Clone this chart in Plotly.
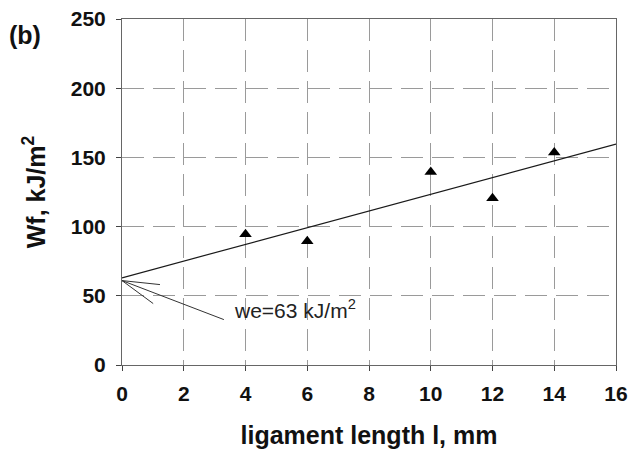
import plotly.graph_objects as go

# Measured work of fracture vs ligament length
ligament_mm = [4, 6, 10, 12, 14]
wf_kj_m2 = [94.5, 89.5, 139.5, 120.5, 153.5]

# Linear fit: essential work (intercept) and slope
we_intercept = 63
fit_slope = 6.04
fit_x = [0, 16]

x_ticks = [0, 2, 4, 6, 8, 10, 12, 14, 16]
y_ticks = [0, 50, 100, 150, 200, 250]

FONT = "Liberation Sans, Arial, sans-serif"

fig = go.Figure()

fig.add_trace(go.Scatter(
    x=fit_x,
    y=[we_intercept + fit_slope * v for v in fit_x],
    mode="lines",
    line=dict(color="#1a1a1a", width=1.2),
    hoverinfo="skip",
))

fig.add_trace(go.Scatter(
    x=ligament_mm,
    y=wf_kj_m2,
    mode="markers",
    marker=dict(symbol="triangle-up", size=11, color="black"),
))

# Pointer lines from the label to the intercept
pointer_ends = [(1.23, 58.1), (1.01, 44.4), (3.30, 32.8)]
for ex, ey in pointer_ends:
    fig.add_shape(type="line", xref="x", yref="y", x0=0, y0=61, x1=ex, y1=ey,
                  line=dict(color="#333333", width=1))

fig.add_annotation(
    x=3.56, y=40.5, xref="x", yref="y", xanchor="left", yanchor="middle",
    text="we=63 kJ/m<sup>2</sup>", showarrow=False,
    font=dict(family=FONT, size=21, color="#222222"),
)

fig.add_annotation(
    x=-0.233, y=0.955, xref="paper", yref="paper", xanchor="left", yanchor="middle",
    text="<b>(b)</b>", showarrow=False,
    font=dict(family=FONT, size=25, color="#111111"),
)

grid_common = dict(
    showgrid=True, gridcolor="#9a9a9a", gridwidth=1, griddash="22px,9px",
    showline=True, linecolor="#666666", linewidth=1, mirror=True,
    ticks="outside", ticklen=5, tickcolor="#444444",
    tickfont=dict(family=FONT, size=21, color="#111111"),
    zeroline=False, automargin=False,
)

fig.update_layout(
    width=640, height=458,
    margin=dict(l=122, r=24, t=19, b=93),
    paper_bgcolor="white", plot_bgcolor="white",
    showlegend=False,
    xaxis=dict(
        range=[0, 16], tickvals=x_ticks, ticktext=[f"<b>{v}</b>" for v in x_ticks],
        ticklabelstandoff=5,
        title=dict(text="<b>ligament length l, mm</b>", standoff=22,
                   font=dict(family=FONT, size=25, color="#111111")),
        **grid_common,
    ),
    yaxis=dict(
        range=[0, 250], tickvals=y_ticks, ticktext=[f"<b>{v}</b>" for v in y_ticks],
        ticklabelstandoff=6,
        title=dict(text="<b>Wf, kJ/m<sup>2</sup></b>", standoff=18,
                   font=dict(family=FONT, size=25, color="#111111")),
        **grid_common,
    ),
)

fig.write_html("out.html")
